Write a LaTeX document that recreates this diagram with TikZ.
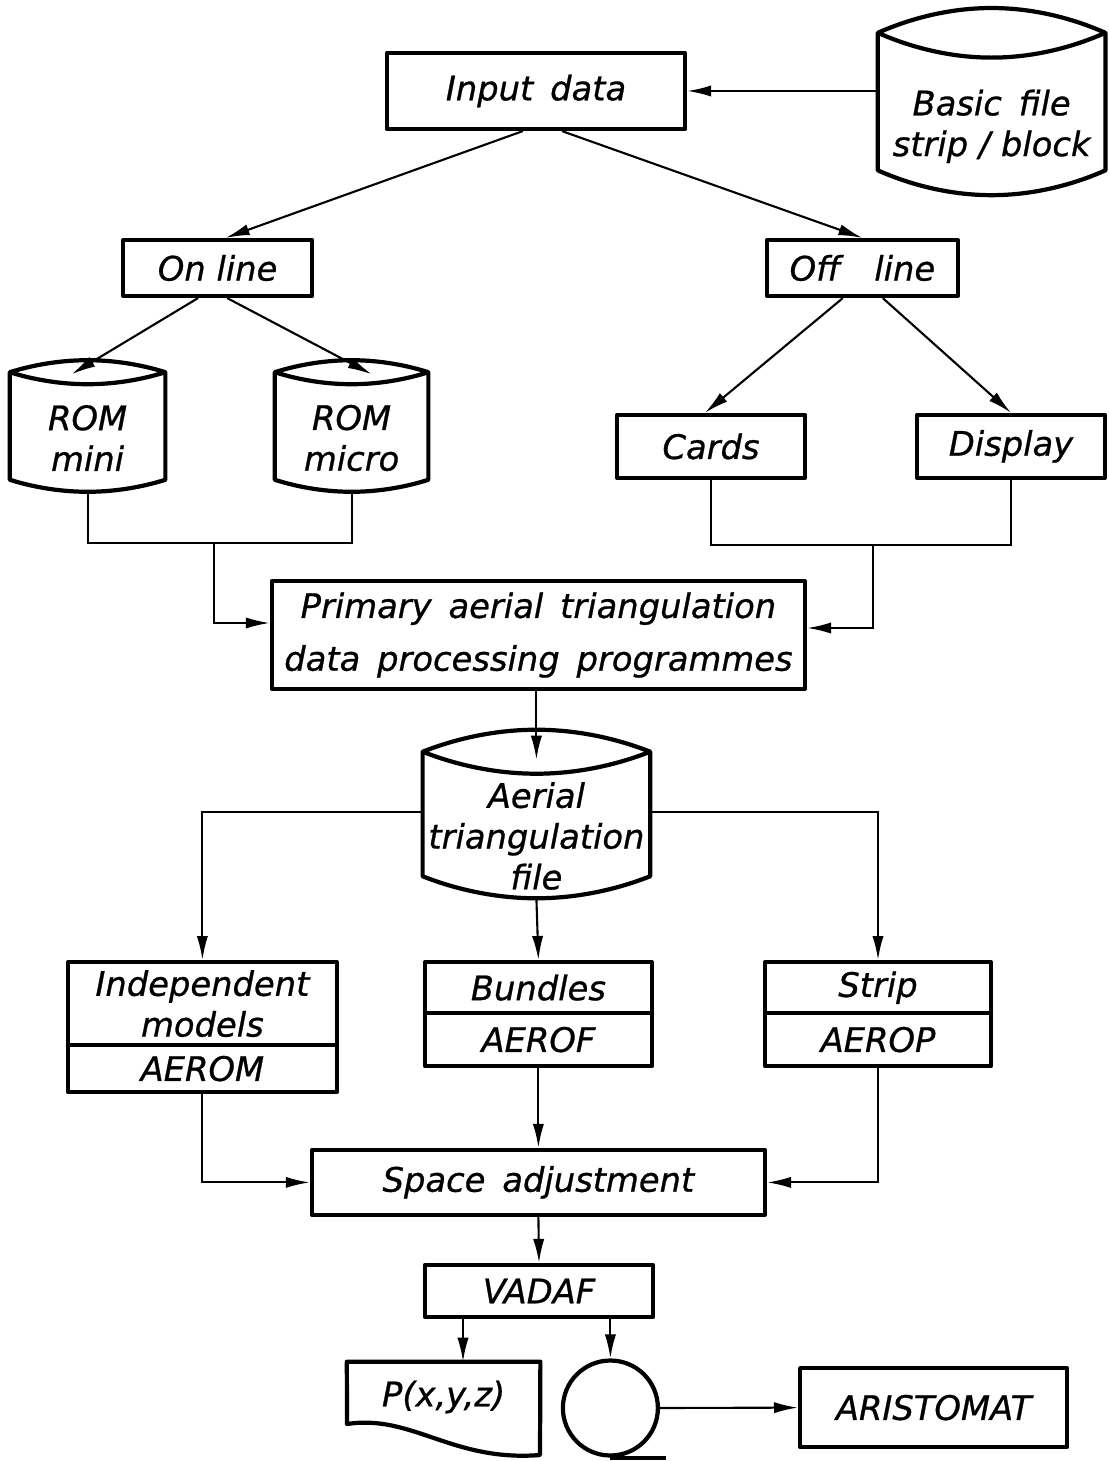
\documentclass[tikz,border=0pt]{standalone}
\usepackage{fontspec}
\setmainfont{DejaVu Sans}
\usetikzlibrary{arrows.meta,positioning,calc}

\begin{document}
\begin{tikzpicture}[font=\fontsize{24}{29}\selectfont\itshape\addfontfeature{FakeBold=0.8}]
    \tikzset{
        outline/.style={line width=3pt, line join=round},
        box/.style={draw, outline, align=center, inner sep=2pt},
        store/.style={align=center, inner sep=0pt},
        wire/.style={line width=1.5pt},
        arr/.style={wire, -{Latex[length=6mm, width=2.8mm]}}
    }
    \useasboundingbox (0,0) rectangle (27.7,-36.525);

    % upper part
    \node[box, minimum width=7.45cm, minimum height=1.9cm] (input) at (13.4,-2.275) {Input\enspace data};
    \node[store, minimum width=5.675cm, minimum height=3.425cm] (basic) at (24.79,-3.16) {Basic\enspace file\\strip / block};
    \node[box, minimum width=4.725cm, minimum height=1.4cm] (online) at (5.44,-6.7) {On line};
    \node[box, minimum width=4.775cm, minimum height=1.4cm] (offline) at (21.56,-6.7) {Off\quad line};
    \node[store, minimum width=3.875cm, minimum height=2.675cm] (rommini) at (2.19,-10.95) {ROM\\mini};
    \node[store, minimum width=3.825cm, minimum height=2.675cm] (rommicro) at (8.79,-10.95) {ROM\\micro};
    \node[box, minimum width=4.7cm, minimum height=1.575cm] (cards) at (17.775,-11.16) {Cards};
    \node[box, minimum width=4.7cm, minimum height=1.575cm] (display) at (25.275,-11.16) {Display};
    \node[box, minimum width=13.325cm, minimum height=2.7cm] (primary) at (13.46,-15.875)
        {Primary\enspace aerial\enspace triangulation\\[0.3cm]data\enspace processing\enspace programmes};
    \node[store, minimum width=5.675cm, minimum height=3.1cm] (atfile) at (13.41,-20.9) {Aerial\\triangulation\\file};

    % programmes
    \node[box, minimum width=6.725cm, minimum height=2.075cm] (indep) at (5.06,-25.09) {Independent\\models};
    \node[box, minimum width=6.725cm, minimum height=1.175cm, below=-3pt of indep] (aerom) {AEROM};
    \node[box, minimum width=5.675cm, minimum height=1.275cm] (bundles) at (13.46,-24.69) {Bundles};
    \node[box, minimum width=5.675cm, minimum height=1.325cm, below=-3pt of bundles] (aerof) {AEROF};
    \node[box, minimum width=5.65cm, minimum height=1.275cm] (strip) at (21.95,-24.69) {Strip};
    \node[box, minimum width=5.65cm, minimum height=1.325cm, below=-3pt of strip] (aerop) {AEROP};

    % output
    \node[box, minimum width=11.325cm, minimum height=1.625cm] (space) at (13.46,-29.56) {Space\enspace adjustment};
    \node[box, minimum width=5.7cm, minimum height=1.3cm] (vadaf) at (13.475,-32.275) {VADAF};
    \node[store, minimum width=4.825cm, minimum height=1.75cm] (doc) at (11.09,-34.925) {P(x,y,z)};
    \node[draw, circle, outline, minimum size=2.375cm, inner sep=0pt] (tape) at (15.26,-35.2) {};
    \node[box, minimum width=6.675cm, minimum height=1.975cm] (aristomat) at (23.34,-35.19) {ARISTOMAT};

    \foreach \n/\s in {basic/0.62, rommini/0.3, rommicro/0.3, atfile/0.55}
        \draw[outline] ($(\n.north west)+(0,\s)$) parabola bend ($(\n.north)+(0,2*\s)$) ($(\n.north east)+(0,\s)$)
            -- ($(\n.south east)+(0,\s)$) parabola bend (\n.south) ($(\n.south west)+(0,\s)$) -- cycle
            ($(\n.north west)+(0,\s)$) parabola bend (\n.north) ($(\n.north east)+(0,\s)$);
    \draw[outline] (doc.north west) -- (doc.north east) -- (13.5,-36.375)
        .. controls (11.3,-36.55) and (10.3,-35.35) .. (8.675,-35.6) -- cycle;
    \draw[outline] (tape.south) -- ++(1.4,0);

    \coordinate (onbus) at (5.35,-13.575);
    \coordinate (offbus) at (21.825,-13.625);

    \draw[arr] (basic.west |- input.east) -- (input.east);
    \draw[arr] ([xshift=-0.33cm]input.south) -- ([xshift=0.2cm]online.north);
    \draw[arr] ([xshift=0.65cm]input.south) -- (offline.north);
    \draw[arr] ([xshift=-0.49cm]online.south) -- ($(rommini.north)+(-0.4,0.25)$);
    \draw[arr] ([xshift=0.24cm]online.south) -- ($(rommicro.north)+(0.5,0.25)$);
    \draw[arr] ([xshift=-0.49cm]offline.south) -- ([xshift=-0.15cm]cards.north);
    \draw[arr] ([xshift=0.51cm]offline.south) -- (display.north);
    \draw[wire] (rommini.south) |- (onbus) -| (rommicro.south);
    \draw[wire] (cards.south) |- (offbus) -| (display.south);
    \draw[arr] (onbus) |- ([yshift=0.3cm]primary.west);
    \draw[arr] (offbus) |- ([yshift=0.175cm]primary.east);
    \draw[arr] (primary.south -| atfile) -- ([yshift=0.35cm]atfile.north);
    \draw[arr] ([yshift=0.6cm]atfile.west) -| (indep.north);
    \draw[arr] ([yshift=0.6cm]atfile.east) -| (strip.north);
    \draw[arr] (atfile.south) -- (bundles.north);
    \draw[arr] (aerom.south) |- (space.west);
    \draw[arr] (aerof.south) -- (space.north);
    \draw[arr] (aerop.south) |- (space.east);
    \draw[arr] (space.south) -- (vadaf.north);
    \draw[arr] ([xshift=-1.9cm]vadaf.south) -- ([xshift=-1.9cm]vadaf.south |- doc.north);
    \draw[arr] (vadaf.south -| tape.north) -- (tape.north);
    \draw[arr] (tape.east) -- (aristomat.west);
\end{tikzpicture}
\end{document}
